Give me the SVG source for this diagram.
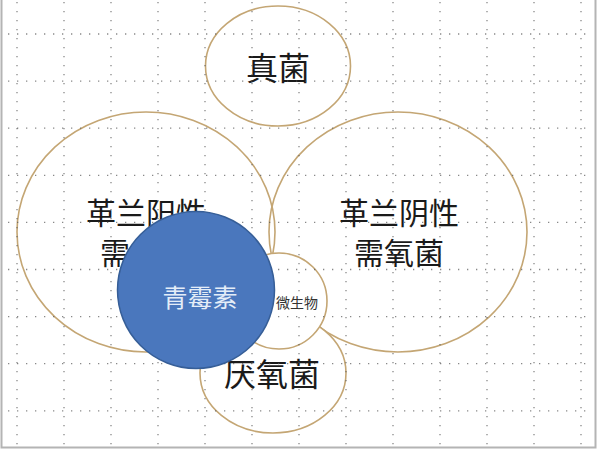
<svg xmlns="http://www.w3.org/2000/svg" width="600" height="450" viewBox="0 0 600 450">
  <style>
    .ring { fill: none; stroke: #c4a674; stroke-width: 1.6; }
    .ringw { fill: #ffffff; stroke: #c4a674; stroke-width: 1.6; }
    .lbl { font-family: "Noto Sans CJK SC", "Noto Sans", sans-serif; font-size: 32px; fill: #1a1a1a; text-anchor: middle; dominant-baseline: central; }
    .two { font-size: 30px; }
    .small { font-size: 14px; fill: #333333; }
    .blue { fill: #4a77bd; stroke: #365e97; stroke-width: 1.5; }
    .blbl { font-family: "Noto Sans CJK SC", "Noto Sans", sans-serif; font-size: 25px; fill: #e4edf8; text-anchor: middle; dominant-baseline: central; }
    .gridh { stroke: #555555; stroke-width: 1.3; stroke-dasharray: 1.3 7.7; fill: none; opacity: 0.7; }
    .gridv { stroke: #555555; stroke-width: 1.3; stroke-dasharray: 1.3 7.7; fill: none; opacity: 0.7; }
  </style>
  <rect x="0" y="0" width="600" height="450" fill="#ffffff"/>

  <g id="node-gram-positive">
    <ellipse class="ring" cx="146" cy="232" rx="129" ry="120"/>
    <text class="lbl two" x="146" y="211">革兰阳性</text>
    <text class="lbl two" x="145" y="251">需氧菌</text>
  </g>
  <g id="node-gram-negative">
    <ellipse class="ring" cx="398" cy="232" rx="129" ry="120"/>
    <text class="lbl two" x="399" y="211">革兰阴性</text>
    <text class="lbl two" x="399" y="251">需氧菌</text>
  </g>
  <g id="node-fungi">
    <ellipse class="ringw" cx="278" cy="66" rx="72.5" ry="60"/>
    <text class="lbl" x="278" y="66">真菌</text>
  </g>
  <g id="node-anaerobes">
    <ellipse class="ringw" cx="273" cy="373" rx="73" ry="60"/>
    <text class="lbl" x="272" y="372">厌氧菌</text>
  </g>
  <g id="node-microbes">
    <circle class="ringw" cx="279" cy="301" r="48"/>
    <text class="lbl small" x="297" y="302">微生物</text>
  </g>

  <g id="grid">
    <path class="gridh" d="M8 34H592M8 81.1H592M8 128.2H592M8 175.3H592M8 222.4H592M8 269.5H592M8 316.6H592M8 363.7H592M8 410.8H592"/>
    <path class="gridv" d="M17 2V446M64 2V446M111 2V446M158 2V446M205 2V446M252 2V446M299 2V446M346 2V446M393 2V446M440 2V446M487 2V446M534 2V446M581 2V446"/>
    <path d="M1.5 0V447.5H595.5V0" fill="none" stroke="#b4b4b4" stroke-width="2"/>
  </g>

  <g id="connectors"></g>

  <g id="node-penicillin">
    <circle class="blue" cx="196" cy="290" r="78.5"/>
    <text class="blbl" x="200" y="296">青霉素</text>
  </g>
</svg>
